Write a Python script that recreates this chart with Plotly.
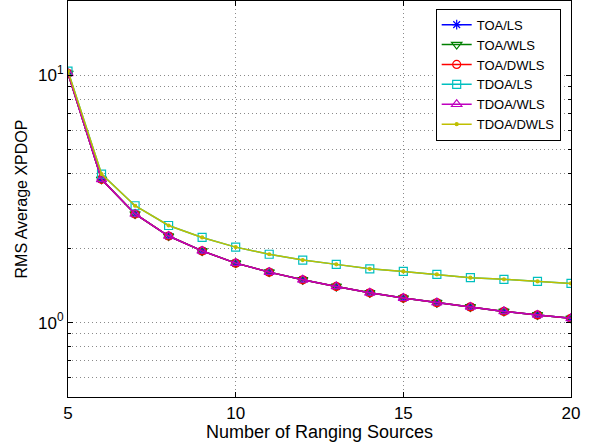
import plotly.graph_objects as go
import numpy as np

sources = [5, 6, 7, 8, 9, 10, 11, 12, 13, 14, 15, 16, 17, 18, 19, 20]
toa_ls = [10.2, 3.80, 2.75, 2.24, 1.95, 1.74, 1.60, 1.49, 1.40, 1.32, 1.257, 1.204, 1.157, 1.11, 1.074, 1.041]
toa_wls = [10.2, 3.80, 2.75, 2.24, 1.95, 1.74, 1.60, 1.49, 1.40, 1.32, 1.257, 1.204, 1.157, 1.11, 1.074, 1.041]
toa_dwls = [10.2, 3.80, 2.75, 2.24, 1.95, 1.74, 1.60, 1.49, 1.40, 1.32, 1.257, 1.204, 1.157, 1.11, 1.074, 1.041]
tdoa_ls = [10.4, 3.99, 2.97, 2.47, 2.21, 2.02, 1.89, 1.79, 1.72, 1.65, 1.61, 1.566, 1.52, 1.496, 1.468, 1.44]
tdoa_wls = [10.2, 3.80, 2.75, 2.24, 1.95, 1.74, 1.60, 1.49, 1.40, 1.32, 1.257, 1.204, 1.157, 1.11, 1.074, 1.041]
tdoa_dwls = [10.4, 3.99, 2.97, 2.47, 2.21, 2.02, 1.89, 1.79, 1.72, 1.65, 1.61, 1.566, 1.52, 1.496, 1.468, 1.44]

x_ticks = [5, 10, 15, 20]
y_major = [1, 10]
y_major_text = ["10<sup>0</sup>", "10<sup>1</sup>"]
y_minor = [0.5, 0.6, 0.7, 0.8, 0.9, 2, 3, 4, 5, 6, 7, 8, 9, 20]

series = [
    ("TOA/LS", toa_ls, "#0000ff", "asterisk-open", 8),
    ("TOA/WLS", toa_wls, "#008000", "triangle-down-open", 9),
    ("TOA/DWLS", toa_dwls, "#ff0000", "circle-open", 8),
    ("TDOA/LS", tdoa_ls, "#00bfbf", "square-open", 8),
    ("TDOA/WLS", tdoa_wls, "#bf00bf", "triangle-up-open", 9),
    ("TDOA/DWLS", tdoa_dwls, "#bfbf00", "circle", 3),
]

fig = go.Figure()
for name, vals, col, sym, sz in series:
    fig.add_trace(go.Scatter(
        x=sources, y=vals, name=name, mode="lines+markers",
        line=dict(color=col, width=1.5),
        marker=dict(symbol=sym, size=sz, color=col, line=dict(color=col, width=1.2)),
    ))

FONT = "Liberation Sans, Arial, sans-serif"
tick_font = dict(family=FONT, size=17, color="black")
grid_col = "#8a8a8a"
grid_dash = "1px,3px"
fig.update_layout(
    width=597, height=444,
    margin=dict(l=68, r=26, t=1, b=47),
    paper_bgcolor="white", plot_bgcolor="white",
    font=tick_font,
    showlegend=True,
    legend=dict(
        x=0.9795, y=0.9806, xanchor="right", yanchor="top",
        bordercolor="black", borderwidth=1, bgcolor="white",
        font=dict(family=FONT, size=13, color="black"),
        tracegroupgap=0, itemwidth=30,
    ),
    xaxis=dict(
        range=[5, 20], tickvals=x_ticks, ticktext=[str(v) for v in x_ticks],
        ticks="inside", ticklen=5, tickcolor="black",
        showline=True, linecolor="black", linewidth=1.2, mirror="ticks",
        showgrid=True, gridcolor=grid_col, griddash=grid_dash, gridwidth=1,
        zeroline=False,
        title=dict(text="Number of Ranging Sources", font=dict(family=FONT, size=18, color="black"), standoff=1),
        tickfont=tick_font,
    ),
    yaxis=dict(
        type="log", range=[np.log10(0.5), np.log10(20)],
        tickvals=y_major, ticktext=y_major_text,
        ticks="inside", ticklen=5, tickcolor="black",
        showline=True, linecolor="black", linewidth=1.2, mirror="ticks",
        showgrid=True, gridcolor=grid_col, griddash=grid_dash, gridwidth=1,
        minor=dict(tickvals=y_minor, ticks="inside", ticklen=3, tickcolor="black",
                   showgrid=True, gridcolor=grid_col, griddash=grid_dash, gridwidth=1),
        zeroline=False,
        title=dict(text="RMS Average XPDOP", font=dict(family=FONT, size=16, color="black"), standoff=6),
        tickfont=tick_font,
    ),
)

fig.write_html("out.html", config={"displayModeBar": False},
               post_script="document.body.style.margin='0';document.body.style.overflow='hidden';")
